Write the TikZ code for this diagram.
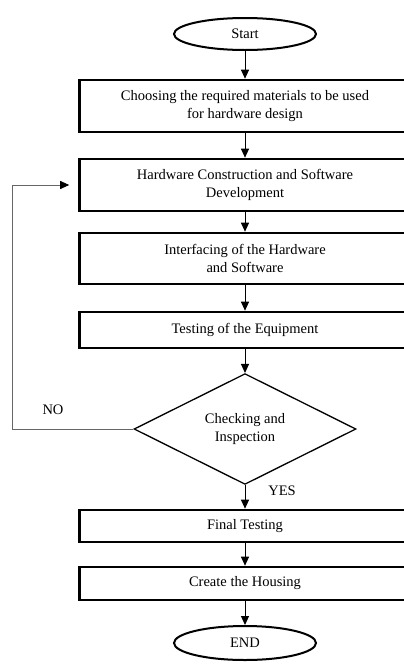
\documentclass[tikz,border=0pt]{standalone}
\usepackage{fontspec}
\setmainfont{Liberation Serif}
\usetikzlibrary{shapes.geometric,arrows.meta}

\tikzset{
	stage/.style={draw, line width=2.6pt, minimum width=331pt, align=center, inner sep=2pt},
	term/.style={draw, ellipse, line width=2pt, minimum width=142pt, minimum height=32pt, inner sep=0pt},
	decision/.style={draw, diamond, line width=1.3pt, minimum width=222pt, minimum height=108pt, inner sep=0pt, align=center},
	flow/.style={-{Triangle[width=8pt,length=9pt]}, line width=1pt},
	back/.style={-{Triangle[width=8pt,length=9pt,black]}, draw=black!60, line width=0.9pt}
}

\begin{document}
\begin{tikzpicture}[x=1pt, y=-1pt, font=\fontsize{14.5pt}{17.5pt}\selectfont]
	\useasboundingbox (0,0) rectangle (404,664);
	\clip (0,0) rectangle (404,664);
	\node[term] (start) at (245,34) {Start};
	\node[stage, minimum height=52pt] (choose) at (245,106) {Choosing the required materials to be used\\for hardware design};
	\node[stage, minimum height=52pt] (build) at (245,185) {Hardware Construction and Software\\Development};
	\node[stage, minimum height=51pt] (interface) at (245,258.5) {Interfacing of the Hardware\\and Software};
	\node[stage, minimum height=36pt] (testeq) at (245,330) {Testing of the Equipment};
	\node[decision] (check) at (245,429) {Checking and\\Inspection};
	\node[stage, minimum height=32pt] (final) at (245,526) {Final Testing};
	\node[stage, minimum height=33pt] (housing) at (245,583.5) {Create the Housing};
	\node[term, minimum height=34pt] (end) at (245,643) {END};
	\node (no) at (53,410) {NO};
	\node (yes) at (282,491) {YES};
	\coordinate (lft) at (12,0);

	\draw[flow] (start) -- (choose);
	\draw[flow] (choose) -- (build);
	\draw[flow] (build) -- (interface);
	\draw[flow] (interface) -- (testeq);
	\draw[flow] (testeq) -- (check);
	\draw[flow] (check) -- (final);
	\draw[flow] (final) -- (housing);
	\draw[flow] (housing) -- (end);
	\draw[back] (check.west) -- (check.west -| lft) |- ([xshift=-9pt]build.west);
\end{tikzpicture}
\end{document}
